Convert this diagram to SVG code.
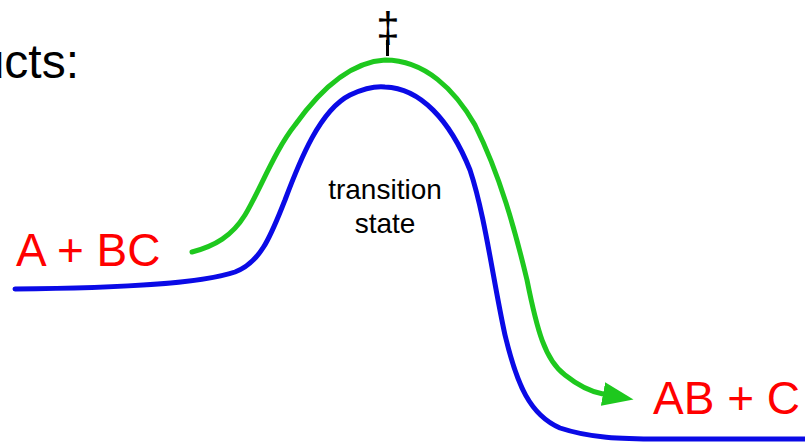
<svg xmlns="http://www.w3.org/2000/svg" width="805" height="443" viewBox="0 0 805 443">
<style>
.lbl{font-family:"Liberation Sans",Arial,sans-serif;}
.red{fill:#ff0000;font-size:46px;}
.blk{fill:#000000;}
.curve{fill:none;stroke-width:5;stroke-linecap:round;stroke-linejoin:round;}
</style>
<defs>
<marker id="ah" markerUnits="userSpaceOnUse" markerWidth="34" markerHeight="26" refX="0" refY="12" orient="auto" viewBox="0 0 34 24">
<path d="M0,0 L31,12 L0,24 z" fill="#1ec81e"/>
</marker>
</defs>
<rect width="805" height="443" fill="#ffffff"/>
<text class="lbl blk" x="79" y="78" font-size="48" text-anchor="end">ucts:</text>
<g id="energy-curve">
<path class="curve" stroke="#0a0ae6" d="M15,289 C120,288 200,284 235,272 C262,262 272,232 285,200 C300,160 320,110 350,95 C365,88 375,86 385,87 C420,88 450,120 470,170 C485,215 493,280 505,335 C517,385 530,415 560,428 C590,438 620,439 660,439 L805,439"/>
</g>
<g id="connectors">
<path class="curve" stroke="#1ec81e" marker-end="url(#ah)" d="M192,252 C215,246 232,236 245,215 C260,190 275,150 295,125 C320,90 350,62 385,60 C425,60 455,90 475,125 C500,175 515,230 527,280 C537,330 545,360 565,375 C580,387 592,392 603,394"/>
</g>
<g id="reactants"><text class="lbl red" x="16" y="266">A + BC</text></g>
<g id="products"><text class="lbl red" x="653" y="414" font-size="45">AB + C</text></g>
<g id="transition-state">
<text class="lbl blk" x="385" y="199" font-size="28" text-anchor="middle">transition</text>
<text class="lbl blk" x="385" y="233" font-size="28" text-anchor="middle">state</text>
</g>
<g id="double-dagger">
<text class="lbl blk" x="388" y="42" font-size="42" text-anchor="middle">‡</text>
<line x1="387.5" y1="40" x2="387.5" y2="56" stroke="#000000" stroke-width="3"/>
</g>
</svg>
